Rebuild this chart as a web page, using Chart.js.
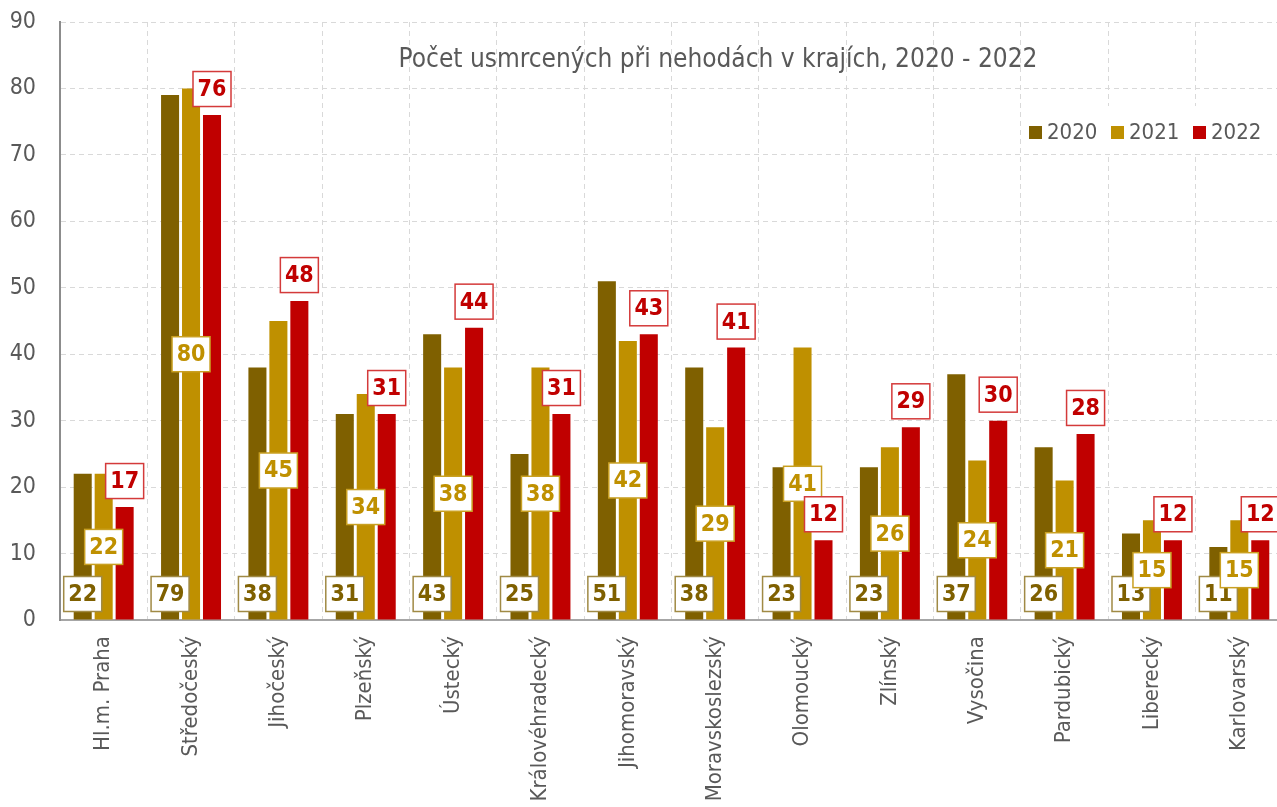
<!DOCTYPE html>
<html>
<head>
<meta charset="utf-8">
<script src="https://cdn.jsdelivr.net/npm/chart.js@4.4.1/dist/chart.umd.min.js"></script>
<style>
  html, body { margin: 0; padding: 0; background: #fff; overflow: hidden; }
  canvas { display: block; }
</style>
</head>
<body>
<canvas id="fatalities" width="1290" height="807"></canvas>
<script>
var FONT = '"Liberation Sans Narrow", "Arial Narrow", "DejaVu Sans Condensed", sans-serif';

var categories = ['Hl.m. Praha', 'Středočeský', 'Jihočeský', 'Plzeňský', 'Ústecký', 'Královéhradecký',
    'Jihomoravský', 'Moravskoslezský', 'Olomoucký', 'Zlínský', 'Vysočina', 'Pardubický', 'Liberecký', 'Karlovarský'];
var years = ['2020', '2021', '2022'];
var values2020 = [22, 79, 38, 31, 43, 25, 51, 38, 23, 23, 37, 26, 13, 11];
var values2021 = [22, 80, 45, 34, 38, 38, 42, 29, 41, 26, 24, 21, 15, 15];
var values2022 = [17, 76, 48, 31, 44, 31, 43, 41, 12, 29, 30, 28, 12, 12];
var titleText = 'Počet usmrcených při nehodách v krajích, 2020 - 2022';

var barColors = ['#7F6000', '#BF9000', '#C00000'];
var boxBorders = ['#A08A45', '#C9A022', '#D43A3A'];

// white boxes with the values
var boxLabels = {
    id: 'boxLabels',
    afterDatasetsDraw: function (chart) {
        var ctx = chart.ctx;
        var y = chart.scales.y;
        ctx.save();
        ctx.font = 'bold 23px ' + FONT;
        ctx.textAlign = 'center';
        ctx.textBaseline = 'middle';
        chart.data.datasets.forEach(function (ds, i) {
            var meta = chart.getDatasetMeta(i);
            meta.data.forEach(function (bar, j) {
                var v = ds.data[j];
                var cy;
                if (i === 0) cy = y.getPixelForValue(0) - 26;
                else if (i === 1) cy = y.getPixelForValue(v / 2);
                else cy = bar.y - 26;
                var w = 38, h = 35;
                ctx.fillStyle = '#fff';
                ctx.fillRect(bar.x - w / 2, cy - h / 2, w, h);
                ctx.lineWidth = 1.5;
                ctx.strokeStyle = boxBorders[i];
                ctx.strokeRect(bar.x - w / 2, cy - h / 2, w, h);
                ctx.fillStyle = barColors[i];
                ctx.fillText(String(v), bar.x, cy + 1);
            });
        });
        ctx.restore();
    }
};

// title and legend inside the plot area
var insideText = {
    id: 'insideText',
    beforeDatasetsDraw: function (chart) {
        var ctx = chart.ctx;
        ctx.save();
        ctx.fillStyle = '#fff';
        ctx.fillRect(1022, 106, 246, 48);
        ctx.font = '22px ' + FONT;
        ctx.textBaseline = 'middle';
        ctx.textAlign = 'left';
        var xs = [1029, 1111, 1193];
        years.forEach(function (yr, i) {
            ctx.fillStyle = barColors[i];
            ctx.fillRect(xs[i], 126, 13, 13);
            ctx.fillStyle = '#595959';
            ctx.fillText(yr, xs[i] + 18, 133);
        });
        ctx.font = '26px ' + FONT;
        ctx.textAlign = 'center';
        ctx.fillText(titleText, 718, 60);
        ctx.restore();
    }
};

var ctx = document.getElementById('fatalities').getContext('2d');
var fatalities = new Chart(ctx, {
    type: 'bar',
    data: {
        labels: categories,
        datasets: [values2020, values2021, values2022].map(function (vals, i) {
            return {
                label: years[i],
                data: vals,
                backgroundColor: barColors[i],
                borderWidth: 0,
                categoryPercentage: 0.72,
                barPercentage: 0.86
            };
        })
    },
    options: {
        responsive: false,
        animation: false,
        layout: { padding: { top: 22, right: 7, left: 0, bottom: 0 } },
        scales: {
            x: {
                grid: { color: '#D9D9D9', lineWidth: 1, drawTicks: false, offset: true },
                border: { display: true, color: '#A6A6A6', width: 2, dash: [5, 4] },
                ticks: {
                    color: '#595959',
                    font: { family: FONT, size: 22 },
                    minRotation: 90,
                    maxRotation: 90,
                    autoSkip: false,
                    padding: 16
                },
                afterFit: function (scale) { scale.height = 187; }
            },
            y: {
                min: 0,
                max: 90,
                grid: { color: '#D9D9D9', lineWidth: 1, drawTicks: true, tickLength: 24, tickColor: 'rgba(0,0,0,0)' },
                border: { display: true, color: '#8C8C8C', width: 2, dash: [5, 4] },
                ticks: {
                    stepSize: 10,
                    color: '#595959',
                    font: { family: FONT, size: 23 },
                    padding: 0
                },
                afterFit: function (scale) { scale.width = 60; }
            }
        },
        plugins: {
            legend: { display: false },
            title: { display: false },
            tooltip: { enabled: false }
        }
    },
    plugins: [insideText, boxLabels]
});
</script>
</body>
</html>
